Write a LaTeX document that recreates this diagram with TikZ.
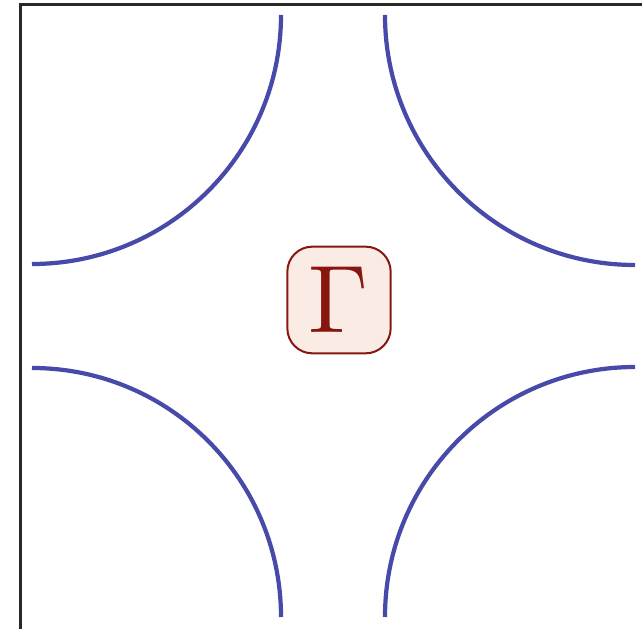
\documentclass[tikz,border=0pt]{standalone}
\usetikzlibrary{positioning}
\definecolor{cellarcblue}{RGB}{72,74,170}
\definecolor{cellgammafill}{RGB}{250,235,228}
\definecolor{cellgammadark}{RGB}{135,22,16}
\definecolor{cellframe}{RGB}{40,40,40}
\tikzset{
  cell frame/.style={
    draw=cellframe,
    line width=1.8pt,
  },
  cell arc/.style={
    draw=cellarcblue,
    line width=3.6pt,
  },
  gamma box/.style={
    draw=cellgammadark,
    fill=cellgammafill,
    text=cellgammadark,
    rounded corners=0.75cm,
    line width=1.7pt,
    minimum width=3.1cm,
    minimum height=3.2cm,
    inner sep=0pt,
  },
}

\begin{document}
\begin{tikzpicture}[x=0.03cm,y=-0.03cm]
  \useasboundingbox (0,0) rectangle (642,629);
  % frame of the cell
  \draw[cell frame] (20.5,629) -- (20.5,4.5) -- (642,4.5);
  % four quarter circles round the corners
  \draw[cell arc] (281,15) arc[start angle=0, end angle=90, radius=249];
  \draw[cell arc] (385,15) arc[start angle=180, end angle=90, radius=250];
  \draw[cell arc] (32,368) arc[start angle=-90, end angle=0, radius=249];
  \draw[cell arc] (385,617) arc[start angle=180, end angle=270, radius=250];
  \node[gamma box] (gamma) at (339,300)
    {\scalebox{8.2}{$\Gamma$}};
\end{tikzpicture}
\end{document}
